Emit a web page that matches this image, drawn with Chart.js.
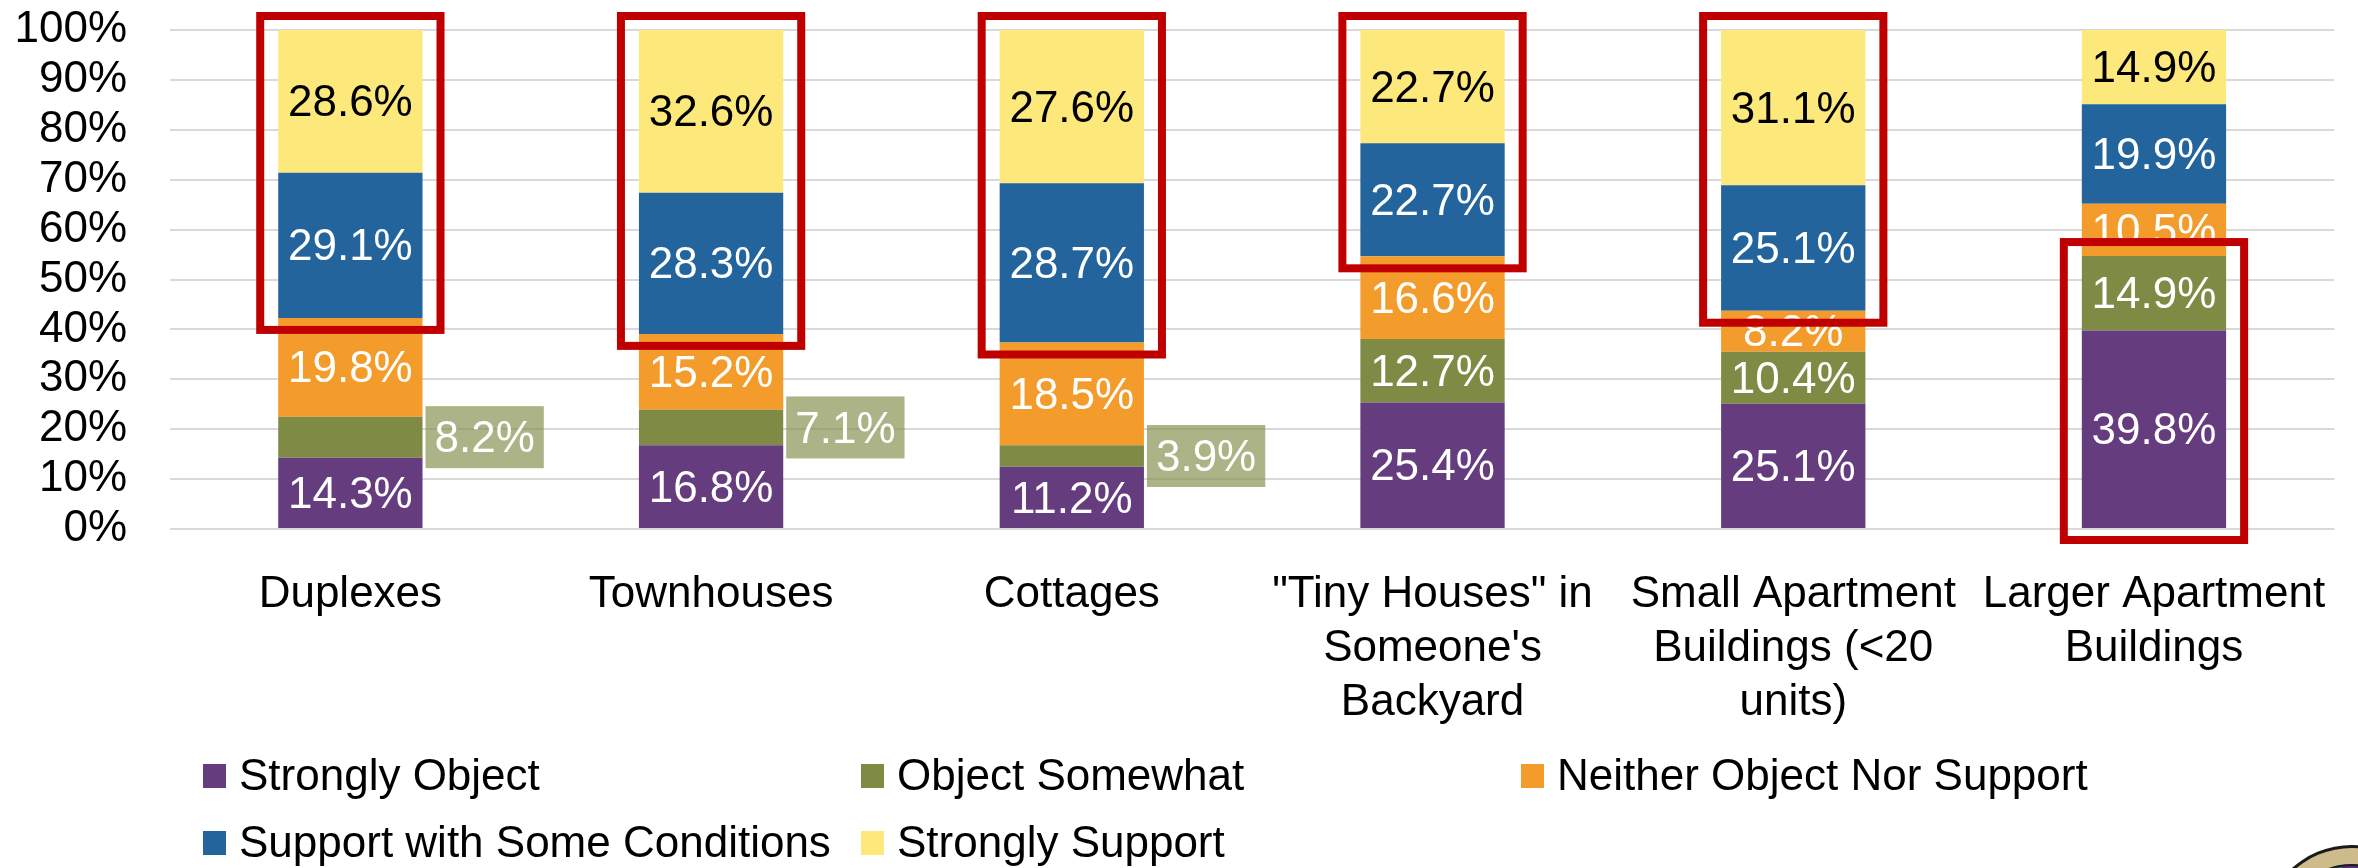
<!DOCTYPE html>
<html>
<head>
<meta charset="utf-8">
<script src="https://cdn.jsdelivr.net/npm/chart.js@4.4.1/dist/chart.umd.min.js"></script>
<style>
  html, body { margin: 0; padding: 0; background: #fff; }
  #wrap { width: 2358px; height: 868px; position: relative; }
</style>
</head>
<body>
<div id="wrap"><canvas id="chart"></canvas></div>
<script>
// categories (multi-line labels as arrays)
const categories = [
  'Duplexes',
  'Townhouses',
  'Cottages',
  ['"Tiny Houses" in', "Someone's", 'Backyard'],
  ['Small Apartment', 'Buildings (<20', 'units)'],
  ['Larger Apartment', 'Buildings']
];
const seriesNames = ['Strongly Object', 'Object Somewhat', 'Neither Object Nor Support', 'Support with Some Conditions', 'Strongly Support'];

// survey values in percent, as printed on the bars
const stronglyObject    = [14.3, 16.8, 11.2, 25.4, 25.1, 39.8];
const objectSomewhat    = [8.2, 7.1, 3.9, 12.7, 10.4, 14.9];
const neitherNor        = [19.8, 15.2, 18.5, 16.6, 8.2, 10.5];
const supportConditions = [29.1, 28.3, 28.7, 22.7, 25.1, 19.9];
const stronglySupport   = [28.6, 32.6, 27.6, 22.7, 31.1, 14.9];

const yTicks = [0, 10, 20, 30, 40, 50, 60, 70, 80, 90, 100];

// which series are boxed in red for each category (first..last)
const highlightFrom = [3, 3, 3, 3, 3, 0];
const highlightTo   = [4, 4, 4, 4, 4, 1];

const colors = ['#653D7E', '#7F8A45', '#F49C2B', '#23649D', '#FDE87B'];
const FONT = '44px "Liberation Sans", Arial, sans-serif';

const rawSeries = [stronglyObject, objectSomewhat, neitherNor, supportConditions, stronglySupport];
// 100% stacked: each bar is scaled to its own total
const totals = categories.map((_, i) => rawSeries.reduce((s, arr) => s + arr[i], 0));

const datasets = rawSeries.map((arr, k) => ({
  label: seriesNames[k],
  data: arr.map((v, i) => v / totals[i] * 100),
  raw: arr,
  backgroundColor: colors[k],
  borderWidth: 0,
  categoryPercentage: 0.8,
  barPercentage: 0.5
}));

// labels on segments + the red highlight boxes
const segLabels = {
  id: 'segLabels',
  afterDatasetsDraw(chart) {
    const ctx = chart.ctx;
    ctx.save();
    ctx.font = FONT;
    ctx.textAlign = 'center';
    ctx.textBaseline = 'middle';
    chart.data.datasets.forEach((ds, di) => {
      const meta = chart.getDatasetMeta(di);
      meta.data.forEach((bar, i) => {
        const raw = ds.raw[i];
        const text = raw.toFixed(1) + '%';
        const cy = (bar.y + bar.base) / 2;
        if (di === 1 && raw < 9) {
          // thin segment -> label sits to the right of the bar
          const w = ctx.measureText(text).width + 18;
          const x0 = bar.x + bar.width / 2 + 3;
          ctx.fillStyle = 'rgba(127,138,69,0.65)';
          ctx.fillRect(x0, cy - 31, w, 62);
          ctx.fillStyle = '#fff';
          ctx.fillText(text, x0 + w / 2, cy + 3);
        } else {
          ctx.fillStyle = di === 4 ? '#000' : '#fff';
          ctx.fillText(text, bar.x, cy + 3);
        }
      });
    });

    // red boxes
    ctx.strokeStyle = '#C00000';
    ctx.lineWidth = 8;
    categories.forEach((_, i) => {
      const topBar = chart.getDatasetMeta(highlightTo[i]).data[i];
      const lowBar = chart.getDatasetMeta(highlightFrom[i]).data[i];
      const left = topBar.x - topBar.width / 2 - 22;
      const right = topBar.x + topBar.width / 2 + 22;
      const top = topBar.y - 18;
      const bottom = lowBar.base + 16;
      ctx.strokeRect(left + 4, top + 4, right - left - 8, bottom - top - 8);
    });
    ctx.restore();
  }
};

// legend laid out in a grid like the original
const gridLegend = {
  id: 'gridLegend',
  afterDraw(chart) {
    const ctx = chart.ctx;
    ctx.save();
    ctx.font = FONT;
    ctx.textBaseline = 'middle';
    ctx.textAlign = 'left';
    const colX = [203, 861, 1521];
    const rowY = [776, 843];
    chart.data.datasets.forEach((ds, k) => {
      const x = colX[k % 3];
      const y = rowY[Math.floor(k / 3)];
      ctx.fillStyle = ds.backgroundColor;
      ctx.fillRect(x, y - 12, 23, 24);
      ctx.fillStyle = '#000';
      ctx.fillText(ds.label, x + 36, y + 2);
    });

    // corner seal (partly off the slide)
    const cx = 2352, cy = 935, r = 90;
    ctx.beginPath(); ctx.arc(cx, cy, r, 0, Math.PI * 2); ctx.fillStyle = '#1a1a1a'; ctx.fill();
    ctx.beginPath(); ctx.arc(cx, cy, r - 3, 0, Math.PI * 2); ctx.fillStyle = '#CDBB8C'; ctx.fill();
    ctx.beginPath(); ctx.arc(cx, cy, r - 19, 0, Math.PI * 2); ctx.fillStyle = '#1a1a1a'; ctx.fill();
    ctx.save();
    ctx.beginPath(); ctx.arc(cx, cy, r - 21, 0, Math.PI * 2); ctx.clip();
    ctx.fillStyle = '#2F5FA7'; ctx.fillRect(cx - r, cy - r, r - 10, 2 * r);
    ctx.fillStyle = '#5A2A84'; ctx.fillRect(cx - 10, cy - r, r + 10, 2 * r);
    ctx.restore();
    ctx.restore();
  }
};

const ctx = document.getElementById('chart').getContext('2d');
new Chart(ctx, {
  type: 'bar',
  data: { labels: categories, datasets: datasets },
  options: {
    responsive: true,
    maintainAspectRatio: false,
    animation: false,
    layout: { padding: { top: 30, right: 22, bottom: 0, left: 0 } },
    plugins: {
      legend: { display: false },
      tooltip: { enabled: false }
    },
    scales: {
      x: {
        stacked: true,
        grid: { display: false },
        border: { display: false },
        ticks: {
          color: '#000',
          font: { family: '"Liberation Sans", Arial, sans-serif', size: 44, lineHeight: 1.23 },
          padding: 31,
          maxRotation: 0,
          autoSkip: false
        },
        afterFit(scale) { scale.height = 868 - 529; }
      },
      y: {
        stacked: true,
        min: 0,
        max: 100,
        afterBuildTicks(scale) { scale.ticks = yTicks.map(v => ({ value: v })); },
        grid: { color: '#D9D9D9', lineWidth: 2, drawTicks: false },
        border: { display: false },
        ticks: {
          color: '#000',
          font: { family: '"Liberation Sans", Arial, sans-serif', size: 44 },
          padding: 43,
          autoSkip: false,
          callback: v => v + '%'
        },
        afterFit(scale) {
          scale.width = 170;
          scale.paddingTop = 0;
          scale.paddingBottom = 0;
        }
      }
    }
  },
  plugins: [segLabels, gridLegend]
});
</script>
</body>
</html>
